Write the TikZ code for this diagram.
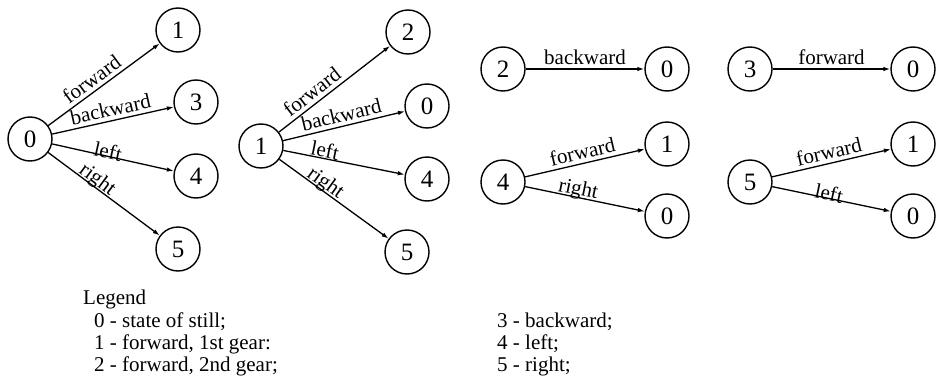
\documentclass[tikz,border=0pt]{standalone}
\usepackage{fontspec}
\setmainfont{Liberation Serif}
\newfontfamily\tmsfont{Liberation Serif}
\usetikzlibrary{arrows.meta}
\begin{document}
\begin{tikzpicture}[x=1pt,y=-1pt,
 every node/.style={font=\tmsfont},
 st/.style={circle,draw,line width=1.4pt,minimum size=44pt,inner sep=0pt,font=\tmsfont\fontsize{25}{25}\selectfont},
 tr/.style={-{Latex[length=7pt,width=4.5pt]},line width=1.3pt},
 lbl/.style={sloped,above,inner sep=3.5pt,font=\tmsfont\fontsize{21}{21}\selectfont},
 lbc/.style={sloped,above,inner sep=0pt,yshift=-3pt,font=\tmsfont\fontsize{21}{21}\selectfont},
 leg/.style={anchor=base west,inner sep=0pt,font=\tmsfont\fontsize{21}{21}\selectfont}]
\useasboundingbox (0,0) rectangle (940,380);
% group 1
\node[st] (a0) at (30,139) {0};
\node[st] (a1) at (178,30) {1};
\node[st] (a3) at (196,102) {3};
\node[st] (a4) at (196,176) {4};
\node[st] (a5) at (178,249) {5};
\draw[tr] (a0) -- node[lbl,pos=0.45] {forward} (a1);
\draw[tr] (a0) -- node[lbl,pos=0.5] {backward} (a3);
\draw[tr] (a0) -- node[lbc,pos=0.45] {left} (a4);
\draw[tr] (a0) -- node[lbc,pos=0.4] {right} (a5);
% group 2
\node[st] (b1) at (261,146) {1};
\node[st] (b2) at (408,32) {2};
\node[st] (b0) at (427,106) {0};
\node[st] (b4) at (427,179) {4};
\node[st] (b5) at (407,252) {5};
\draw[tr] (b1) -- node[lbl,pos=0.36] {forward} (b2);
\draw[tr] (b1) -- node[lbl,pos=0.5] {backward} (b0);
\draw[tr] (b1) -- node[lbc,pos=0.33,yshift=3pt] {left} (b4);
\draw[tr] (b1) -- node[lbc,pos=0.38] {right} (b5);
% group 3
\node[st] (c2) at (503,69) {2};
\node[st] (c0) at (667,69) {0};
\node[st] (c4) at (503,182) {4};
\node[st] (c1) at (667,144) {1};
\node[st] (c0b) at (667,216) {0};
\draw[tr] (c2) -- node[lbl] {backward} (c0);
\draw[tr] (c4) -- node[lbl] {forward} (c1);
\draw[tr] (c4) -- node[lbc,pos=0.43] {right} (c0b);
% group 4
\node[st] (d3) at (750,69) {3};
\node[st] (d0) at (913,69) {0};
\node[st] (d5) at (750,182) {5};
\node[st] (d1) at (913,144) {1};
\node[st] (d0b) at (913,216) {0};
\draw[tr] (d3) -- node[lbl] {forward} (d0);
\draw[tr] (d5) -- node[lbl] {forward} (d1);
\draw[tr] (d5) -- node[lbc,pos=0.47] {left} (d0b);
% legend
\node[leg] (lg) at (83,304) {Legend};
\node[leg] (l0) at (94,327) {0 - state of still;};
\node[leg] (l1) at (94,349) {1 - forward, 1st gear:};
\node[leg] (l2) at (94,371) {2 - forward, 2nd gear;};
\node[leg] (l3) at (497,327) {3 - backward;};
\node[leg] (l4) at (497,349) {4 - left;};
\node[leg] (l5) at (497,371) {5 - right;};
\end{tikzpicture}
\end{document}
